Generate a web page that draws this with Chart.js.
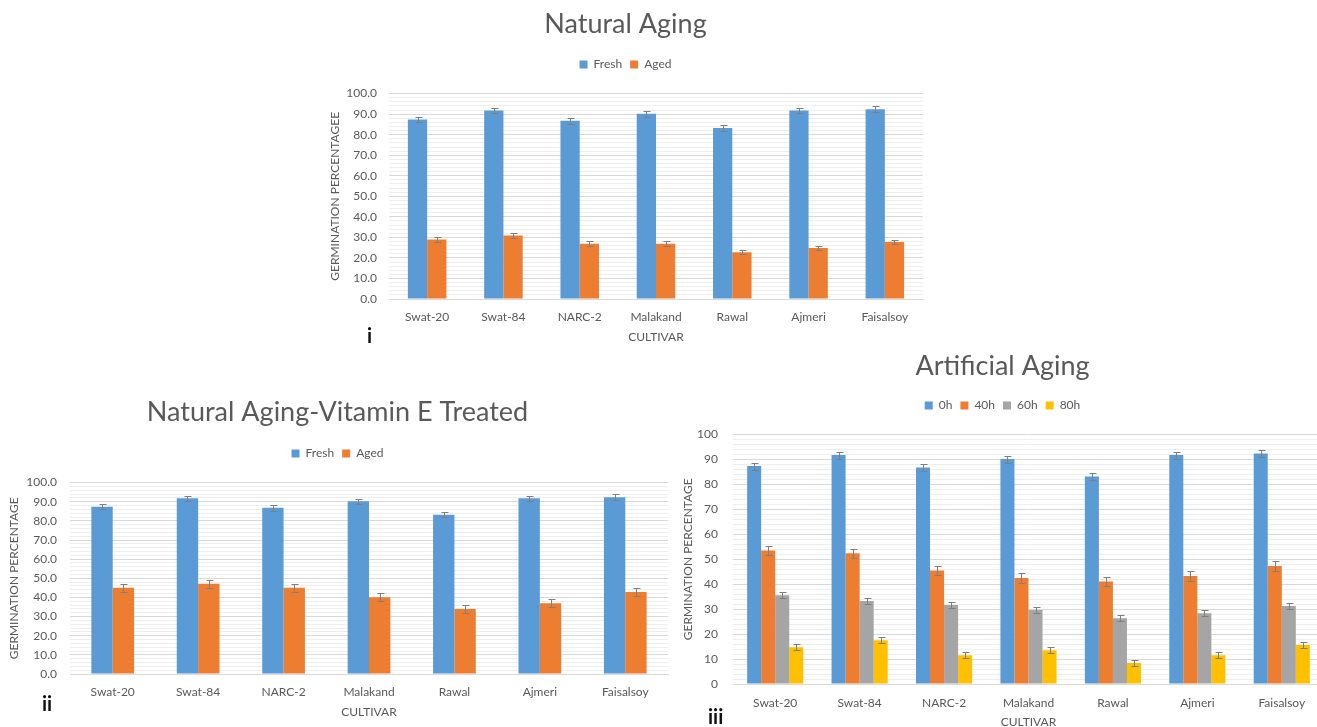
<!DOCTYPE html>
<html>
<head>
<meta charset="utf-8">
<title>Seed germination</title>
<script src="https://cdn.jsdelivr.net/npm/chart.js@4.4.0/dist/chart.umd.min.js"></script>
<style>
  html, body { margin: 0; padding: 0; background: #fff; overflow: hidden; }
  body { width: 1317px; height: 727px; position: relative; }
  .panel { position: absolute; }
  .tag { position: absolute; font-family: Lato, sans-serif; font-size: 20px; font-weight: bold; line-height: 20px; color: #111; }
</style>
</head>
<body>
<div class="panel" style="left:310px;top:0;width:626px;height:350px"><canvas id="natChart"></canvas></div>
<div class="panel" style="left:0;top:380px;width:672px;height:347px"><canvas id="vitChart"></canvas></div>
<div class="panel" style="left:680px;top:340px;width:645px;height:390px"><canvas id="artChart"></canvas></div>
<div class="tag" style="left:367px;top:325px">i</div>
<div class="tag" style="left:42px;top:693px">ii</div>
<div class="tag" style="left:708px;top:706px">iii</div>

<script>
// cultivars on the x axis
const cultivars = ['Swat-20', 'Swat-84', 'NARC-2', 'Malakand', 'Rawal', 'Ajmeri', 'Faisalsoy'];

// germination % of fresh (unaged) seed, same control in all three panels
const freshGerm = [87.4, 91.8, 86.8, 90.2, 83.2, 91.8, 92.4];
const freshErr = [1.4, 1.4, 1.4, 1.4, 1.4, 1.4, 1.4];

// natural aging
const natAged = [29.0, 30.9, 26.9, 26.9, 22.8, 24.8, 27.7];
const natAgedErr = [1.1, 1.1, 1.1, 1.1, 1.1, 1.1, 1.1];

// natural aging, vitamin E treated
const vitAged = [45.0, 47.1, 45.0, 40.1, 33.9, 37.0, 42.9];
const vitAgedErr = [2.0, 2.0, 2.0, 2.0, 2.0, 2.0, 2.0];

// artificial aging, hours of treatment
const art40h = [53.5, 52.4, 45.5, 42.5, 41.1, 43.3, 47.3];
const art60h = [35.6, 33.3, 31.7, 29.7, 26.4, 28.4, 31.3];
const art80h = [14.7, 17.5, 11.5, 13.5, 8.4, 11.5, 15.6];
const art40Err = [1.9, 1.9, 1.9, 1.9, 1.9, 1.9, 1.9];
const art60Err = [1.2, 1.2, 1.2, 1.2, 1.2, 1.2, 1.2];
const art80Err = [1.2, 1.2, 1.2, 1.2, 1.2, 1.2, 1.2];

const BLUE = '#5b9bd5', ORANGE = '#ed7d31', GREY = '#a5a5a5', GOLD = '#ffc000';
const TEXT = '#595959';
const FONT = 'Lato, "Open Sans", sans-serif';

Chart.defaults.font.family = FONT;
Chart.defaults.color = TEXT;

// whiskers for +/- error on every bar
const errorBars = {
  id: 'errorBars',
  afterDatasetsDraw(chart) {
    const ctx = chart.ctx;
    const y = chart.scales.y;
    ctx.save();
    ctx.strokeStyle = '#7f7f7f';
    ctx.lineWidth = 1;
    chart.data.datasets.forEach((ds, i) => {
      if (!ds.errors) return;
      chart.getDatasetMeta(i).data.forEach((bar, j) => {
        const v = ds.data[j], e = ds.errors[j];
        const x = Math.round(bar.x) + 0.5;
        const top = Math.round(y.getPixelForValue(v + e)) + 0.5;
        const bot = Math.round(y.getPixelForValue(v - e)) + 0.5;
        ctx.beginPath();
        ctx.moveTo(x, top); ctx.lineTo(x, bot);
        ctx.moveTo(x - 3, top); ctx.lineTo(x + 4, top);
        ctx.moveTo(x - 3, bot); ctx.lineTo(x + 4, bot);
        ctx.stroke();
      });
    });
    ctx.restore();
  }
};

function bars(label, data, errors, color) {
  return { label: label, data: data, errors: errors, backgroundColor: color, borderWidth: 0 };
}

// p: layout numbers for one panel
function makeChart(id, title, yTitle, datasets, p) {
  new Chart(document.getElementById(id), {
    type: 'bar',
    data: { labels: cultivars, datasets: datasets },
    plugins: [errorBars],
    options: {
      responsive: true,
      maintainAspectRatio: false,
      animation: false,
      categoryPercentage: p.catPct,
      barPercentage: 1,
      layout: { padding: p.pad },
      plugins: {
        title: {
          display: true,
          text: title,
          color: TEXT,
          font: { size: 27, weight: 'normal' },
          padding: { top: p.titleTop, bottom: p.titleBottom }
        },
        legend: {
          display: true,
          labels: { boxWidth: 8, boxHeight: 8, padding: 8, color: TEXT, font: { size: 12 } }
        },
        // empty spacer between legend and plot
        subtitle: {
          display: true,
          text: ' ',
          weight: 500,
          font: { size: 1 },
          padding: { top: 0, bottom: p.gap }
        },
        tooltip: { enabled: false }
      },
      scales: {
        x: {
          grid: { display: false, drawTicks: false },
          border: { display: true, color: '#d9d9d9' },
          ticks: { color: TEXT, font: { size: 12 }, padding: p.xTickPad, maxRotation: 0 },
          title: { display: true, text: 'CULTIVAR', color: TEXT, font: { size: 12 }, padding: 0 },
          afterFit(scale) { scale.height = p.xHeight; }
        },
        y: {
          min: 0,
          max: 100,
          border: { display: false },
          grid: {
            drawTicks: false,
            color: c => (c.tick.value % 10 === 0 ? '#d9d9d9' : '#eeeeee')
          },
          ticks: {
            stepSize: 2,
            autoSkip: false,
            padding: p.yTickPad,
            color: TEXT,
            font: { size: 12 },
            callback: v => (v % 10 === 0 ? (p.decimals ? v.toFixed(1) : String(v)) : '')
          },
          title: { display: true, text: yTitle, color: TEXT, font: { size: 12 }, padding: 0 },
          afterFit(scale) { scale.width = p.yWidth; }
        }
      }
    }
  });
}

makeChart('natChart', 'Natural Aging', 'GERMINATION PERCENTAGEE', [
  bars('Fresh', freshGerm, freshErr, BLUE),
  bars('Aged', natAged, natAgedErr, ORANGE)
], {
  pad: { left: 18, right: 13, top: 0, bottom: 6 },
  titleTop: 8, titleBottom: 10, gap: 12,
  yWidth: 61, yTickPad: 12, xHeight: 45, xTickPad: 11,
  catPct: 0.505, decimals: true
});

makeChart('vitChart', 'Natural Aging-Vitamin E Treated', 'GERMINATION PERCENTAGE', [
  bars('Fresh', freshGerm, freshErr, BLUE),
  bars('Aged', vitAged, vitAgedErr, ORANGE)
], {
  pad: { left: 7, right: 4, top: 0, bottom: 8 },
  titleTop: 16, titleBottom: 11, gap: 12,
  yWidth: 63, yTickPad: 13, xHeight: 45, xTickPad: 11,
  catPct: 0.5, decimals: true
});

makeChart('artChart', 'Artificial Aging', 'GERMINATION PERCENTAGE', [
  bars('0h', freshGerm, freshErr, BLUE),
  bars('40h', art40h, art40Err, ORANGE),
  bars('60h', art60h, art60Err, GREY),
  bars('80h', art80h, art80Err, GOLD)
], {
  pad: { left: 1, right: 1, top: 0, bottom: 1 },
  titleTop: 10, titleBottom: 9, gap: 12,
  yWidth: 52, yTickPad: 15, xHeight: 45, xTickPad: 12,
  catPct: 0.665, decimals: false
});
</script>
</body>
</html>
